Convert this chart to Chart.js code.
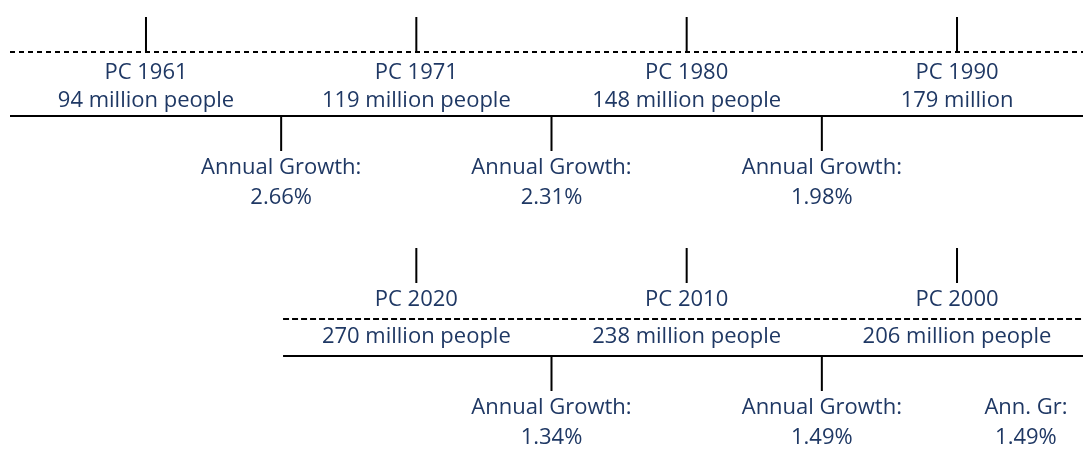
<!DOCTYPE html>
<html>
<head>
<meta charset="utf-8">
<script src="https://cdn.jsdelivr.net/npm/chart.js@4"></script>
<style>
  body { margin: 0; background: #fff; }
  #wrap { width: 1083px; height: 449px; }
</style>
</head>
<body>
<div id="wrap"><canvas id="myChart"></canvas></div>
<script>
// census data
const years = [1961, 1971, 1980, 1990, 2000, 2010, 2020];
const millions = [94, 119, 148, 179, 206, 238, 270];
const growthRates = [2.66, 2.31, 1.98, 1.34, 1.49, 1.49];
const growthTitles = ['Annual Growth:', 'Annual Growth:', 'Annual Growth:', 'Annual Growth:', 'Annual Growth:', 'Ann. Gr:'];

// where each item sits on the timeline (slot index, row)
const censusSlot = [0, 1, 2, 3, 3, 2, 1];
const censusRow = [0, 0, 0, 0, 1, 1, 1];
const growthSlot = [0.5, 1.5, 2.5, 1.5, 2.5, 3.255];
const growthRow = [0, 0, 0, 1, 1, 1];

// vertical layout of each row (pixels from top)
const rowY = [
  { tickTop: 17, tickEnd: 52, dashLine: 52, pc: 73, pop: 101, solid: 116, tickBot: 151, gTitle: 168, gVal: 198, start: -0.503, dash: [5, 4] },
  { tickTop: 248, tickEnd: 283, dashLine: 319, pc: 300, pop: 337, solid: 356, tickBot: 391, gTitle: 408, gVal: 438, start: 0.507, dash: [6, 3] }
];

const X_MIN = -0.54, X_MAX = 3.466;
const navy = '#1f3864';

const popText = millions.map((m, i) => m + (years[i] === 1990 ? ' million' : ' million people'));

function upTicks() {
  const pts = [];
  censusSlot.forEach((s, i) => {
    const r = rowY[censusRow[i]];
    pts.push({ x: s, y: r.tickTop }, { x: s, y: r.tickEnd }, { x: s, y: null });
  });
  return pts;
}

function downTicks() {
  const pts = [];
  growthSlot.forEach((s, i) => {
    if (growthTitles[i] !== 'Annual Growth:') return;
    const r = rowY[growthRow[i]];
    pts.push({ x: s, y: r.solid }, { x: s, y: r.tickBot }, { x: s, y: null });
  });
  return pts;
}

const lineStyle = { borderColor: '#000', borderWidth: 2, pointRadius: 0, fill: false, spanGaps: false };

const datasets = [];
rowY.forEach(r => {
  datasets.push(Object.assign({ data: [{ x: r.start, y: r.dashLine }, { x: X_MAX, y: r.dashLine }], borderDash: r.dash }, lineStyle));
  datasets.push(Object.assign({ data: [{ x: r.start, y: r.solid }, { x: X_MAX, y: r.solid }] }, lineStyle));
});
datasets.push(Object.assign({ data: upTicks() }, lineStyle));
datasets.push(Object.assign({ data: downTicks() }, lineStyle));

const labelsPlugin = {
  id: 'timelineLabels',
  afterDatasetsDraw(chart) {
    const { ctx, scales: { x, y } } = chart;
    ctx.save();
    ctx.fillStyle = navy;
    ctx.font = '22px "Open Sans"';
    ctx.textAlign = 'center';
    ctx.textBaseline = 'middle';
    years.forEach((yr, i) => {
      const r = rowY[censusRow[i]];
      const px = x.getPixelForValue(censusSlot[i]);
      ctx.fillText('PC ' + yr, px, y.getPixelForValue(r.pc));
      ctx.fillText(popText[i], px, y.getPixelForValue(r.pop));
    });
    growthRates.forEach((g, i) => {
      const r = rowY[growthRow[i]];
      const px = x.getPixelForValue(growthSlot[i]);
      ctx.fillText(growthTitles[i], px, y.getPixelForValue(r.gTitle));
      ctx.fillText(g.toFixed(2) + '%', px, y.getPixelForValue(r.gVal));
    });
    ctx.restore();
  }
};

var ctx = document.getElementById('myChart').getContext('2d');
var myChart = new Chart(ctx, {
  type: 'line',
  data: { datasets: datasets },
  options: {
    responsive: true,
    maintainAspectRatio: false,
    animation: false,
    layout: { padding: 0 },
    plugins: { legend: { display: false }, tooltip: { enabled: false } },
    scales: {
      x: { type: 'linear', min: X_MIN, max: X_MAX, display: false },
      y: { type: 'linear', min: 0, max: 449, reverse: true, display: false }
    }
  },
  plugins: [labelsPlugin]
});
</script>
</body>
</html>
